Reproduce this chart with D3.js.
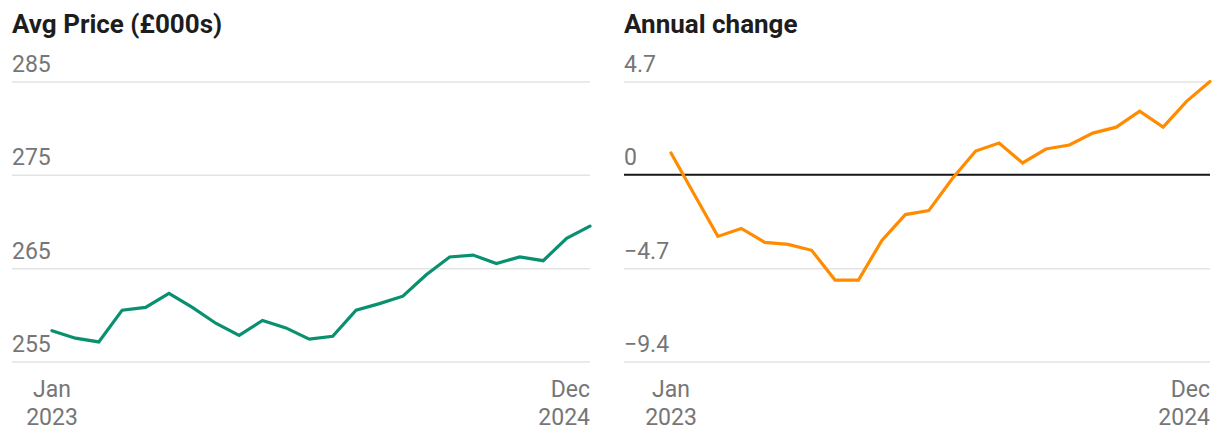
<!DOCTYPE html>
<html><head><meta charset="utf-8">
<script src="https://cdn.jsdelivr.net/npm/d3@7"></script>
<style>
html,body{margin:0;padding:0;background:#fff;}
svg{display:block;font-family:Roboto,"Noto Sans",sans-serif;}
</style></head>
<body>
<svg id="c" width="1220" height="442"></svg>
<script>
const months = ["Jan 2023","Feb 2023","Mar 2023","Apr 2023","May 2023","Jun 2023","Jul 2023","Aug 2023","Sep 2023","Oct 2023","Nov 2023","Dec 2023",
  "Jan 2024","Feb 2024","Mar 2024","Apr 2024","May 2024","Jun 2024","Jul 2024","Aug 2024","Sep 2024","Oct 2024","Nov 2024","Dec 2024"];
const avgPrice = [258.3,257.5,257.1,260.5,260.8,262.3,260.8,259.1,257.8,259.4,258.6,257.4,257.7,260.5,261.2,262.0,264.3,266.2,266.4,265.5,266.2,265.8,268.2,269.5];
const annualChange = [1.1,-1.0,-3.1,-2.7,-3.4,-3.5,-3.8,-5.3,-5.3,-3.3,-2.0,-1.8,-0.2,1.2,1.6,0.6,1.3,1.5,2.1,2.4,3.2,2.4,3.7,4.7];
const priceTicks = [255,265,275,285];
const changeTicks = [-9.4,-4.7,0,4.7];
const titles = ["Avg Price (£000s)","Annual change"];
const xLabelFirst = ["Jan","2023"];
const xLabelLast = ["Dec","2024"];

const svg = d3.select("#c");
const fmt = v => v < 0 ? "\u2212" + Math.abs(v) : String(v);

function panel(opt){
  const g = svg.append("g");
  const x = d3.scalePoint().domain(months).range([opt.x0, opt.x1]);
  const y = d3.scaleLinear().domain(opt.domain).range([361.5, 81.5]);
  g.append("text").attr("x", opt.gx0).attr("y", 33).attr("font-size", 26).attr("font-weight", 700)
    .attr("fill", "#1d1d1d").text(opt.title);
  const yAxis = d3.axisRight(y).tickValues(opt.ticks).tickSize(opt.x1 - opt.gx0).tickFormat(fmt);
  const ag = g.append("g").attr("transform", `translate(${opt.gx0},0)`).call(yAxis);
  ag.select(".domain").remove();
  ag.selectAll(".tick line").attr("stroke", "#e3e3e3").attr("stroke-width", 1.5);
  ag.selectAll(".tick text").attr("x", 0).attr("dy", -10).attr("text-anchor", "start")
    .attr("font-size", 23).attr("fill", "#767676").attr("font-family", "Roboto");
  if (opt.zero) {
    g.append("line").attr("x1", opt.gx0).attr("x2", opt.x1).attr("y1", y(0)).attr("y2", y(0))
      .attr("stroke", "#1a1a1a").attr("stroke-width", 2);
  }
  const line = d3.line().x((d,i)=>x(months[i])).y(d=>y(d));
  g.append("path").datum(opt.data).attr("d", line).attr("fill","none")
    .attr("stroke", opt.color).attr("stroke-width", 3.2).attr("stroke-linejoin","miter").attr("stroke-linecap","round");
  const xl = g.append("g").attr("font-size", 23).attr("fill", "#767676");
  const first = xl.append("text").attr("x", x(months[0])).attr("text-anchor","middle");
  first.append("tspan").attr("x", x(months[0])).attr("y", 397).text(xLabelFirst[0]);
  first.append("tspan").attr("x", x(months[0])).attr("y", 425).text(xLabelFirst[1]);
  const last = xl.append("text").attr("x", x(months[months.length-1])).attr("text-anchor","end");
  last.append("tspan").attr("x", x(months[months.length-1])).attr("y", 397).text(xLabelLast[0]);
  last.append("tspan").attr("x", x(months[months.length-1])).attr("y", 425).text(xLabelLast[1]);
}

panel({title: titles[0], gx0: 12, x0: 52, x1: 590, domain: [255,285], ticks: priceTicks, data: avgPrice, color: "#08906f", zero: false});
panel({title: titles[1], gx0: 624, x0: 671, x1: 1210, domain: [-9.4,4.7], ticks: changeTicks, data: annualChange, color: "#ff8c00", zero: true});
</script>
</body></html>
